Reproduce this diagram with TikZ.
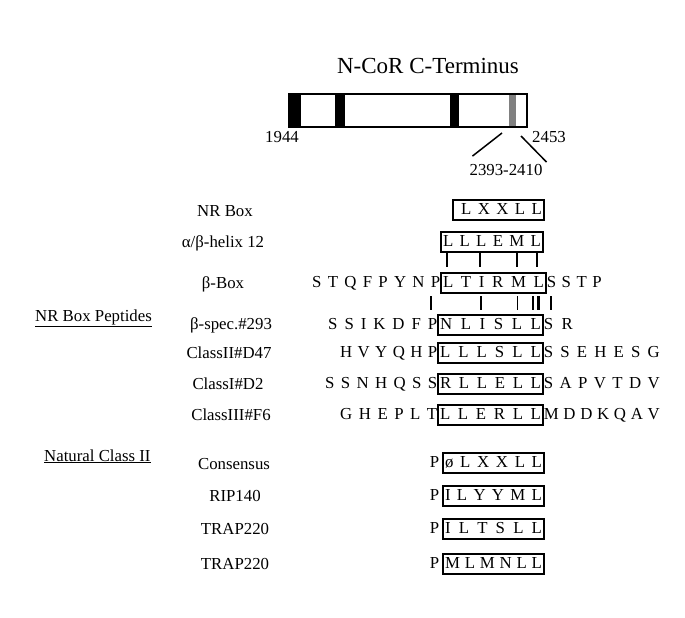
\documentclass[tikz,border=0pt]{standalone}
\usepackage{fontspec}
\setmainfont{Liberation Serif}
\usetikzlibrary{positioning}
\hbadness=10000
\newcommand{\spread}[2]{\hbox to #1pt{#2}}

\tikzset{
  lbl/.style={font=\fontsize{16.8}{20}\selectfont, inner sep=0pt},
  seq/.style={lbl, text height=12pt, text depth=3pt},
  pepbox/.style={seq, draw, line width=1.2pt, inner xsep=2pt, minimum height=20pt},
  bond/.style={line width=2.6pt},
}

\begin{document}
\begin{tikzpicture}[x=1pt,y=-1pt]
    \useasboundingbox (0,0) rectangle (685,618);

    % N-CoR C-terminus bar
    \node [lbl, font=\fontsize{23}{26}\selectfont] (title) at (428,66) {N-CoR C-Terminus};
    \fill (289,94) rectangle (301,127);
    \fill (335,94) rectangle (345,127);
    \fill (450,94) rectangle (459,127);
    \fill [gray] (509,94) rectangle (516,127);
    \draw [line width=1.3pt] (289,94) rectangle (527,127);

    \node [lbl] (n1944) at (282,137) {1944};
    \node [lbl, anchor=west] (n2453) at (532,137) {2453};
    \node [lbl] (nrange) at (506,170) {2393-2410};
    \coordinate (cl) at (502,133);
    \coordinate (cr) at (521,136);
    \draw [line width=1.5pt] (cl) -- ([xshift=3pt,yshift=8pt]nrange.north west);
    \draw [line width=1.5pt] (cr) -- ([xshift=4pt,yshift=2pt]nrange.north east);

    % row labels
    \node [lbl] (lnrbox) at (225,211) {NR\ Box};
    \node [lbl] (lhelix) at (223,243) {α/β-helix 12};
    \node [lbl] (lbeta) at (223,284) {β-Box};
    \node [lbl] (lbspec) at (231,325) {β-spec.\#293};
    \node [lbl] (ld47) at (229,353) {ClassII\#D47};
    \node [lbl] (ld2) at (228,384) {ClassI\#D2};
    \node [lbl] (lf6) at (231,415) {ClassIII\#F6};
    \node [lbl] (lcons) at (234,464) {Consensus};
    \node [lbl] (lrip) at (235,496) {RIP140};
    \node [lbl] (ltrapa) at (235,529) {TRAP220};
    \node [lbl] (ltrapb) at (235,564) {TRAP220};

    \node [lbl, anchor=base west] (hpep) at (35,321) {\underline{NR Box Peptides}};
    \node [lbl, anchor=base west] (hnat) at (44,461) {\underline{Natural Class II}};

    % NR box peptides
    \node [pepbox] (bnrbox) at (498.5,210) {\spread{87}{\hskip 6pt L X X L L}};
    \node [pepbox] (bhelix) at (492,242) {\spread{98}{L L L E M L}};
    \node [pepbox] (bbeta) at (493.5,283) {\spread{101}{L T I R M L}};
    \node [pepbox] (bbspec) at (490.5,325) {\spread{101}{N L I S L L}};
    \node [pepbox] (bd47) at (490.5,353) {\spread{101}{L L L S L L}};
    \node [pepbox] (bd2) at (490.5,384) {\spread{101}{R L L E L L}};
    \node [pepbox] (bf6) at (490.5,415) {\spread{101}{L L E R L L}};

    \node [seq, anchor=east] (pbeta) at (bbeta.west) {\spread{128}{S T Q F P Y N P}};
    \node [seq, anchor=west] (sbeta) at (bbeta.east) {\spread{55}{S S T P}};
    \node [seq, anchor=east] (pbspec) at (bbspec.west) {\spread{109}{S S I K D F P}};
    \node [seq, anchor=west] (sbspec) at (bbspec.east) {\spread{29}{S R}};
    \node [seq, anchor=east] (pd47) at (bd47.west) {\spread{97}{H V Y Q H P}};
    \node [seq, anchor=west] (sd47) at (bd47.east) {\spread{116}{S S E H E S G}};
    \node [seq, anchor=east] (pd2) at (bd2.west) {\spread{112}{S S N H Q S S}};
    \node [seq, anchor=west] (sd2) at (bd2.east) {\spread{116}{S A P V T D V}};
    \node [seq, anchor=east] (pf6) at (bf6.west) {\spread{97}{G H E P L T}};
    \node [seq, anchor=west] (sf6) at (bf6.east) {\spread{116}{M D D K Q A V}};

    % conserved positions
    \draw [bond] (447,253) -- (447,267);
    \draw [bond] (480,253) -- (480,267);
    \draw [bond] (517,253) -- (517,267);
    \draw [bond] (537,253) -- (537,267);
    \draw [bond] (431,296) -- (431,310);
    \draw [bond] (481,296) -- (481,310);
    \draw [line width=1pt] (517,296) -- (517,310);
    \draw [bond] (533,296) -- (533,310);
    \draw [bond] (538.5,296) -- (538.5,310);
    \draw [bond] (551,296) -- (551,310);

    % natural class II
    \node [pepbox] (bcons) at (493.5,463) {\spread{97}{ø L X X L L}};
    \node [pepbox] (brip) at (493.5,496) {\spread{97}{I L Y Y M L}};
    \node [pepbox] (btrapa) at (493.5,529) {\spread{97}{I L T S L L}};
    \node [pepbox] (btrapb) at (493.5,564) {\spread{97}{M L M N L L}};
    \node [seq, left=3pt of bcons] (pcons) {P};
    \node [seq, left=3pt of brip] (prip) {P};
    \node [seq, left=3pt of btrapa] (ptrapa) {P};
    \node [seq, left=3pt of btrapb] (ptrapb) {P};
\end{tikzpicture}
\end{document}
